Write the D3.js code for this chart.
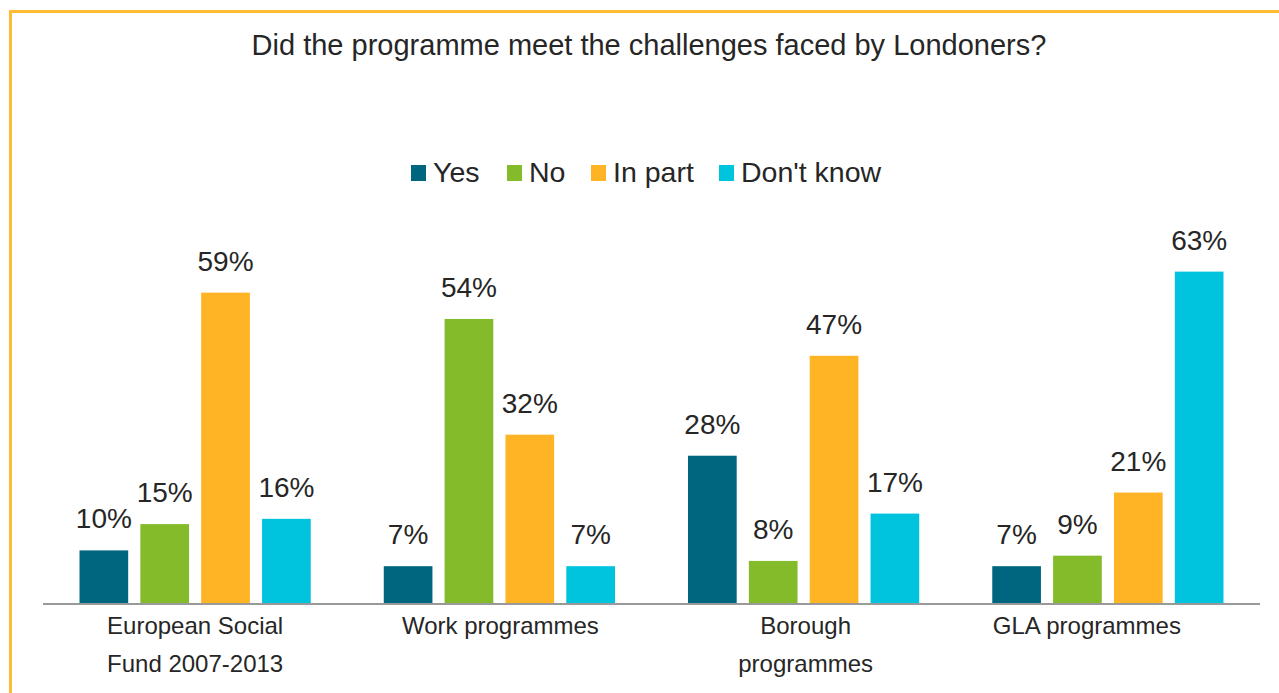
<!DOCTYPE html>
<html>
<head>
<meta charset="utf-8">
<script src="https://cdn.jsdelivr.net/npm/d3@7"></script>
<style>
  html, body { margin: 0; padding: 0; background: #fff; }
  svg { display: block; font-family: "Liberation Sans", Arial, sans-serif; }
</style>
</head>
<body>
<svg id="chart" width="1279" height="693"></svg>
<script>
// Survey responses by programme type (percent of respondents)
const categories = [["European Social", "Fund 2007-2013"], ["Work programmes"], ["Borough", "programmes"], ["GLA programmes"]];
const seriesNames = ["Yes", "No", "In part", "Don't know"];
const yesValues = [10, 7, 28, 7];
const noValues = [15, 54, 8, 9];
const inPartValues = [59, 32, 47, 21];
const dontKnowValues = [16, 7, 17, 63];
const seriesColors = ["#00657f", "#84bb2a", "#feb424", "#00c3de"];

const title = "Did the programme meet the challenges faced by Londoners?";

const series = [yesValues, noValues, inPartValues, dontKnowValues];
const rows = categories.map((c, i) => ({
  label: c,
  values: series.map((s, j) => ({ key: seriesNames[j], value: s[i], color: seriesColors[j] }))
}));

const svg = d3.select("#chart");
const textColor = "#262626";

// frame lines on the top and left edges
svg.append("rect")
  .attr("x", 10.5).attr("y", 11.5)
  .attr("width", 1400).attr("height", 800)
  .attr("fill", "none")
  .attr("stroke", "#ffbb33")
  .attr("stroke-width", 3);

const plot = { left: 43, right: 1260, base: 603 };

const x0 = d3.scaleBand()
  .domain(d3.range(categories.length))
  .range([plot.left, plot.right])
  .paddingInner(0).paddingOuter(0);

const x1 = d3.scaleBand()
  .domain(seriesNames)
  .range([0, x0.bandwidth()])
  .paddingInner(0.2).paddingOuter(0.6);

const y = d3.scaleLinear()
  .domain([0, 70])
  .range([plot.base, plot.base - 70 * 5.26]);

// title
svg.append("text")
  .attr("x", 649).attr("y", 55)
  .attr("text-anchor", "middle")
  .attr("fill", textColor)
  .style("font-size", "29px")
  .text(title);

// legend
const legendItems = [411, 507, 591, 719];
const legend = svg.append("g");
seriesNames.forEach((name, i) => {
  const g = legend.append("g").attr("transform", `translate(${legendItems[i]},0)`);
  g.append("rect").attr("x", 0).attr("y", 165).attr("width", 15).attr("height", 16).attr("fill", seriesColors[i]);
  g.append("text").attr("x", 22).attr("y", 182)
    .attr("fill", textColor).style("font-size", "28.5px").text(name);
});

// bars
const groups = svg.append("g").selectAll("g")
  .data(rows).join("g")
  .attr("transform", (d, i) => `translate(${x0(i)},0)`);

groups.selectAll("rect")
  .data(d => d.values).join("rect")
  .attr("x", d => x1(d.key))
  .attr("width", x1.bandwidth())
  .attr("y", d => y(d.value))
  .attr("height", d => y(0) - y(d.value))
  .attr("fill", d => d.color);

groups.selectAll("text.val")
  .data(d => d.values).join("text")
  .attr("class", "val")
  .attr("x", d => x1(d.key) + x1.bandwidth() / 2)
  .attr("y", d => y(d.value) - 22)
  .attr("text-anchor", "middle")
  .attr("fill", textColor)
  .style("font-size", "28px")
  .text(d => d.value + "%");

// category axis
const axis = svg.append("g")
  .attr("transform", `translate(0,${plot.base + 1})`)
  .call(d3.axisBottom(x0).tickSize(0).tickFormat(""));
axis.select(".domain").attr("stroke", "#999999").attr("stroke-width", 2)
  .attr("d", `M${plot.left},0H${plot.right}`);

// horizontal nudge per category label (last label sits left of its band centre)
const labelShift = [0, 1, 2, -21];
axis.selectAll(".tick").each(function(d) {
  const t = d3.select(this).append("text")
    .attr("text-anchor", "middle")
    .attr("fill", textColor)
    .style("font-size", "24px");
  categories[d].forEach((line, k) => {
    t.append("tspan").attr("x", labelShift[d]).attr("y", 30 + k * 38).text(line);
  });
  d3.select(this).attr("transform", `translate(${x0(d) + x0.bandwidth() / 2},0)`);
});
</script>
</body>
</html>
